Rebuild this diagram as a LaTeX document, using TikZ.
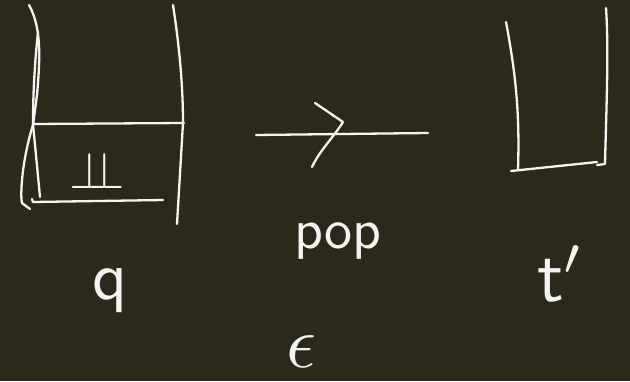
\documentclass[tikz,border=0pt]{standalone}
\usepackage{amsmath,amssymb}
\usepackage{xcolor}
\usepackage{tikz}
\usetikzlibrary{positioning}
\definecolor{board}{HTML}{2B2A1A}
\definecolor{chalk}{HTML}{F4F4F0}
\tikzset{
    every picture/.style={line cap=round,line join=round},
    chalkline/.style={draw=chalk,line width=2.3pt},
    chalktext/.style={text=chalk,inner sep=0pt,font=\sffamily},
}
\begin{document}
\begin{tikzpicture}[x=1pt,y=-1pt]
  \fill[board] (0,0) rectangle (630,381);
  \useasboundingbox (0,0) rectangle (630,381);
  % stack q with bottom symbol
  \draw[chalkline] (29,5) .. controls (42,28) and (40,60) .. (37,95) -- (33,125)
    .. controls (22,160) and (20,195) .. (22,203) -- (30,209);
  \draw[chalkline] (38,32) .. controls (34,70) and (33,100) .. (33,124) -- (40,197);
  \draw[chalkline] (33,124) -- (184,123);
  \draw[chalkline] (173,5) .. controls (180,50) and (183,90) .. (183,123) -- (177,224);
  \draw[chalkline] (32,199) -- (33,202) -- (163,200);
  \node[chalktext,scale=5.2] (bot) at (97,170) {$\perp\!\!\!\perp$};
  \node[chalktext,scale=6.8] (q) at (110,291) {q};
  % transition
  \coordinate (arrS) at (256,135);
  \coordinate (arrE) at (428,133);
  \draw[chalkline] (arrS) -- (arrE);
  \draw[chalkline] (315,103) -- (343,122) .. controls (333,138) and (320,150) .. (312,167);
  \node[chalktext,scale=5.6] (pop) at (338,241) {pop};
  \node[chalktext,scale=7.4] (eps) at (302,352) {$\epsilon$};
  % empty stack t'
  \draw[chalkline] (506,22) .. controls (515,70) and (520,110) .. (518,170);
  \draw[chalkline] (511,171) -- (597,162);
  \draw[chalkline] (606,8) .. controls (609,50) and (606,120) .. (605,164) -- (597,165);
  \node[chalktext,scale=7.4] (tq) at (561,274) {t$'$};
\end{tikzpicture}
\end{document}
